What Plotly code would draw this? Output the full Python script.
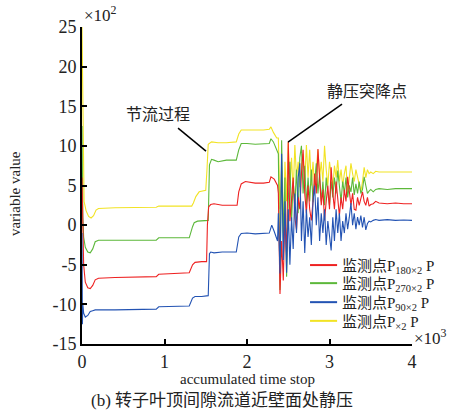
import plotly.graph_objects as go

# ---------------- data (x in units of 10^3, y in units of 10^2) ----------------
t_osc = [2.38, 2.40, 2.42, 2.44, 2.46, 2.48, 2.50, 2.52, 2.54, 2.56,
         2.58, 2.60, 2.62, 2.64, 2.66, 2.68, 2.70, 2.72, 2.74, 2.76,
         2.78, 2.80, 2.82, 2.84, 2.86, 2.88, 2.90, 2.92, 2.94, 2.96,
         2.98, 3.00, 3.02, 3.04, 3.06, 3.08, 3.10, 3.12, 3.14, 3.16,
         3.18, 3.20, 3.22, 3.24, 3.26, 3.28, 3.30, 3.32, 3.34, 3.36,
         3.38, 3.40, 3.42, 3.44, 3.46, 3.48, 3.50]
t_post = [3.53, 3.56, 3.60, 3.70, 3.80, 3.90, 4.00]

# red: P180x2
red_t_pre = [0, 0.005, 0.01, 0.02, 0.04, 0.07, 0.1, 0.13, 0.16, 0.2,
             0.4, 0.9, 0.93, 1.3, 1.34, 1.37, 1.45, 1.51, 1.52, 1.535,
             1.56, 1.6, 1.7, 1.8, 1.88, 1.9, 1.93, 1.98, 2.1, 2.2,
             2.27, 2.29, 2.33, 2.37]
red_y_pre = [6, 3, -1, -5, -7.2, -7.9, -8.0, -7.6, -6.9, -6.7,
             -6.6, -6.5, -6.2, -6.0, -5.0, -4.7, -4.6, -4.6, 0, 2.3,
             2.6, 2.7, 2.5, 2.5, 2.5, 4.2, 5.2, 5.5, 5.3, 5.3,
             5.4, 6.1, 5.8, 5.0]
red_y_osc = [4.0, -8.7, -2.0, -7.0, 1.5, -4.0, 10.5, 0.5, 3.0, 6.0,
             1.0, -0.6, 3.5, 2.0, 6.5, 9.5, 4.0, 1.5, 5.0, 2.0,
             0.6, 3.0, 6.5, 4.0, 9.6, 5.5, 2.5, 4.5, 0.6, 3.0,
             5.0, 2.0, 7.3, 4.0, 2.0, 5.5, 3.0, 1.2, 3.5, 2.0,
             4.5, 3.0, 6.1, 4.0, 2.5, 4.0, 2.0, 1.9, 3.5, 2.5,
             3.2, 4.2, 3.0, 2.5, 3.5, 2.4, 2.6]
red_y_post = [2.7, 3.0, 2.8, 2.7, 2.8, 2.7, 2.7]

# green: P270x2
green_t_pre = [0, 0.005, 0.01, 0.02, 0.04, 0.07, 0.1, 0.13, 0.16, 0.2,
               0.4, 0.9, 0.93, 1.3, 1.34, 1.36, 1.4, 1.5, 1.53, 1.545,
               1.57, 1.6, 1.65, 1.75, 1.87, 1.9, 1.93, 2.0, 2.1, 2.27,
               2.29, 2.32, 2.36]
green_y_pre = [12.5, 6, 1, -1.5, -2.8, -3.4, -3.5, -3.0, -2.1, -1.9,
               -1.9, -1.9, -1.6, -1.6, -0.2, 0.3, 0.5, 0.6, 0.6, 7.6,
               8.3, 8.2, 8.0, 8.2, 8.2, 9.5, 10.3, 10.3, 10.2, 10.3,
               10.9, 10.5, 9.5]
green_y_osc = [9.0, -8.2, 10.7, -2.0, 6.0, -6.5, 3.0, 8.0, 0.5, 5.5,
               2.5, 7.0, 1.5, 8.5, 10.0, 4.0, 7.5, 2.5, 6.0, 3.0,
               7.0, 2.9, 5.0, 7.8, 4.0, 6.5, 3.0, 5.5, 2.5, 6.0,
               4.0, 2.5, 5.5, 3.5, 6.0, 4.0, 6.9, 4.5, 3.0, 5.5,
               4.0, 6.0, 3.5, 5.0, 4.2, 6.0, 3.8, 5.2, 4.0, 5.5,
               4.0, 4.5, 6.1, 5.0, 4.0, 4.3, 4.5]
green_y_post = [4.2, 4.5, 4.6, 4.5, 4.6, 4.6, 4.6]

# blue: P90x2
blue_t_pre = [0, 0.005, 0.01, 0.02, 0.04, 0.07, 0.1, 0.13, 0.16, 0.2,
              0.4, 0.9, 0.93, 1.3, 1.34, 1.37, 1.45, 1.53, 1.545, 1.56,
              1.6, 1.7, 1.87, 1.9, 1.93, 2.0, 2.1, 2.27, 2.3, 2.33,
              2.37]
blue_y_pre = [-1, -12.5, -10, -11.1, -11.6, -11.4, -10.9, -10.8, -10.7, -10.7,
              -10.7, -10.6, -10.3, -10.2, -9.2, -9.0, -9.0, -8.9, -3.6, -3.4,
              -3.5, -3.4, -3.4, -1.5, -1.05, -1.0, -1.1, -1.0, 0.0, -0.8,
              -2.0]
blue_y_osc = [1.5, -6.1, 9.0, -4.4, 3.0, -6.0, 2.0, -5.0, 1.0, -3.0,
              4.0, -1.0, 6.0, 7.8, -2.0, 3.0, -3.5, 2.0, -1.5, 1.0,
              -2.5, 3.0, 5.0, 0.0, 3.5, -2.0, 1.5, -1.0, 2.0, -2.5,
              0.5, -1.5, -3.2, 1.0, -2.0, 2.0, -1.0, 1.5, -2.0, 0.5,
              -1.0, 1.5, -0.5, 1.0, 2.8, 0.0, 1.5, -0.5, 1.0, 0.0,
              1.2, -0.3, 1.0, -0.6, 0.2, 0.5, 0.4]
blue_y_post = [0.6, 0.7, 0.6, 0.7, 0.6, 0.65, 0.6]

# yellow: Px2
yellow_t_pre = [0, 0.005, 0.01, 0.015, 0.025, 0.05, 0.08, 0.11, 0.14, 0.17,
                0.2, 0.4, 0.9, 0.93, 1.33, 1.35, 1.38, 1.42, 1.5, 1.515,
                1.53, 1.57, 1.65, 1.75, 1.87, 1.9, 1.93, 2.0, 2.2, 2.27,
                2.29, 2.32, 2.36]
yellow_y_pre = [25, 20, 12, 7.5, 3.0, 1.8, 1.1, 0.9, 1.2, 1.9,
                2.1, 2.2, 2.25, 2.4, 2.4, 2.8, 3.6, 4.2, 4.4, 7.0,
                10.2, 10.5, 10.4, 10.4, 10.5, 11.5, 12.0, 12.0, 12.0, 12.1,
                12.4, 11.7, 11.0]
yellow_y_osc = [11.0, 2.0, 7.3, -1.0, 8.0, 3.0, 10.5, 5.0, 8.5, 4.0,
                10.1, 6.0, 8.0, 4.8, 7.5, 9.0, 5.5, 10.1, 6.0, 9.5,
                5.0, 8.0, 4.8, 7.0, 9.5, 6.0, 8.0, 5.5, 10.0, 7.0,
                5.0, 8.0, 6.0, 4.8, 7.5, 6.0, 8.2, 5.5, 7.0, 5.0,
                6.5, 7.5, 4.0, 6.0, 7.8, 6.5, 5.5, 7.0, 6.0, 5.0,
                4.2, 5.5, 7.3, 6.0, 7.0, 6.5, 6.7]
yellow_y_post = [6.5, 6.8, 6.7, 6.7, 6.7, 6.7, 6.7]

names = ["监测点P<sub>180×2</sub> P", "监测点P<sub>270×2</sub> P",
         "监测点P<sub>90×2</sub> P", "监测点P<sub>×2</sub> P"]
colors = ["#ee2222", "#5cb83a", "#2353b3", "#f2e325"]

y_tickvals = [25, 20, 15, 10, 5, 0, -5, -10, -15]
y_ticktext = ["25", "20", "15", "10", "5", "0", "-5", "-10", "-15"]
x_tickvals = [0, 1, 2, 3, 4]
x_ticktext = ["0", "1", "2", "3", "4"]

SERIF = "Liberation Serif, Noto Sans CJK SC"
TXT = "#222"

series = {
    "red": (red_t_pre, red_y_pre, red_y_osc, red_y_post, 0),
    "green": (green_t_pre, green_y_pre, green_y_osc, green_y_post, 1),
    "blue": (blue_t_pre, blue_y_pre, blue_y_osc, blue_y_post, 2),
    "yellow": (yellow_t_pre, yellow_y_pre, yellow_y_osc, yellow_y_post, 3),
}

fig = go.Figure()
for key in ["yellow", "green", "red", "blue"]:
    tp, yp, yo, ypo, idx = series[key]
    fig.add_trace(go.Scatter(
        x=tp + t_osc + t_post, y=yp + yo + ypo, mode="lines",
        name=names[idx], showlegend=False,
        line=dict(color=colors[idx], width=1.1)))

fig.update_layout(
    width=450, height=414,
    margin=dict(l=82, r=38, t=27, b=70),
    paper_bgcolor="white", plot_bgcolor="white",
    font=dict(family=SERIF, size=15, color=TXT),
    showlegend=False,
    xaxis=dict(range=[0, 4], showgrid=False, zeroline=False,
               showline=True, linecolor="black", linewidth=2,
               ticks="inside", ticklen=5, tickwidth=1.5, tickcolor="black",
               tickvals=x_tickvals, ticktext=x_ticktext,
               tickfont=dict(family=SERIF, size=18, color=TXT)),
    yaxis=dict(range=[-15, 25], showgrid=False, zeroline=False,
               showline=True, linecolor="black", linewidth=2,
               ticks="inside", ticklen=5, tickwidth=1.5, tickcolor="black",
               tickvals=y_tickvals, ticktext=y_ticktext,
               tickfont=dict(family=SERIF, size=18, color=TXT)),
)

ann = [
    dict(text="×10<sup>2</sup>", xref="paper", yref="paper", x=0, y=1,
         xanchor="left", yanchor="bottom", showarrow=False,
         font=dict(family=SERIF, size=17, color=TXT)),
    dict(text="×10<sup>3</sup>", xref="paper", yref="paper", x=1, y=0,
         xanchor="left", yanchor="bottom", yshift=-6, showarrow=False,
         font=dict(family=SERIF, size=17, color=TXT)),
    dict(text="variable value", xref="paper", yref="paper", x=-0.203, y=0.473,
         textangle=-90, xanchor="center", yanchor="middle", showarrow=False,
         font=dict(family=SERIF, size=15, color=TXT)),
    dict(text="accumulated time stop", xref="paper", yref="paper", x=0.5, y=-0.110,
         xanchor="center", yanchor="middle", showarrow=False,
         font=dict(family=SERIF, size=15, color=TXT)),
    dict(text="(b) 转子叶顶间隙流道近壁面处静压", xref="paper", yref="paper",
         x=0.424, y=-0.177, xanchor="center", yanchor="middle", showarrow=False,
         font=dict(family=SERIF, size=17, color=TXT)),
    dict(text="节流过程", x=0.921, y=14.0, xref="x", yref="y",
         xanchor="center", yanchor="middle", showarrow=False,
         font=dict(family=SERIF, size=16, color=TXT)),
    dict(text="静压突降点", x=3.455, y=16.83, xref="x", yref="y",
         xanchor="center", yanchor="middle", showarrow=False,
         font=dict(family=SERIF, size=16, color=TXT)),
]

# hand-placed legend (rows in paper coordinates)
leg_rows = [0.249, 0.192, 0.132, 0.073]
for i, yy in enumerate(leg_rows):
    fig.add_shape(type="line", xref="paper", yref="paper",
                  x0=0.691, x1=0.773, y0=yy, y1=yy,
                  line=dict(color=colors[i], width=2))
    ann.append(dict(text=names[i], xref="paper", yref="paper", x=0.782, y=yy,
                    xanchor="left", yanchor="middle", yshift=-2, showarrow=False,
                    font=dict(family=SERIF, size=15, color=TXT)))

fig.update_layout(annotations=ann)
fig.add_shape(type="line", x0=1.164, y0=12.23, x1=1.503, y1=9.33,
              xref="x", yref="y", line=dict(color="black", width=1.5))
fig.add_shape(type="line", x0=3.152, y0=15.26, x1=2.497, y1=10.47,
              xref="x", yref="y", line=dict(color="black", width=1.5))

fig.write_html("out.html")
